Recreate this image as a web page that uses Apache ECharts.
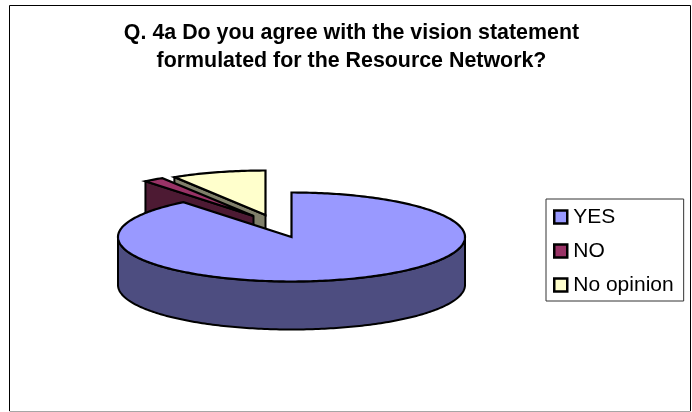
<!DOCTYPE html>
<html>
<head>
<meta charset="utf-8">
<style>html,body{margin:0;padding:0;background:#fff}#chart{width:692px;height:412px}</style>
<script src="https://cdn.jsdelivr.net/npm/echarts@6/dist/echarts.min.js"></script>
</head>
<body>
<div id="chart"></div>
<script>
// Survey answers, in percent
const categories = ['YES', 'NO', 'No opinion'];
const shares = [89.3, 1.9, 8.8];
const topColors = ['#9999ff', '#993366', '#ffffcc'];
const sideColors = ['#4d4d80', '#4d1a33', '#80806a'];
const titleLines = ['Q. 4a Do you agree with the vision statement', 'formulated for the Resource Network?'];

// Tilted disc geometry
const disc = { cx: 291.5, cy: 237, rx: 173.5, ry: 44.5, depth: 48 };
// Pull-out of each slice from the centre
const pullX = [0, -38, -26];
const pullY = [0, -21, -22];
const total = shares.reduce((a, b) => a + b, 0);

function sliceRange(i) {
  let before = 0;
  for (let k = 0; k < i; k++) before += shares[k];
  return [before / total * 360, (before + shares[i]) / total * 360];
}

function rimPoint(deg, ox, oy, drop) {
  const t = deg * Math.PI / 180;
  return [disc.cx + ox + disc.rx * Math.sin(t), disc.cy + oy + drop - disc.ry * Math.cos(t)];
}

function arcPoints(a, b, ox, oy, drop) {
  const steps = Math.max(2, Math.ceil(Math.abs(b - a)));
  const pts = [];
  for (let s = 0; s <= steps; s++) pts.push(rimPoint(a + (b - a) * s / steps, ox, oy, drop));
  return pts;
}

function renderSlice(params) {
  const i = params.seriesIndex;
  const [a, b] = sliceRange(i);
  const ox = pullX[i], oy = pullY[i], d = disc.depth;
  const apex = [disc.cx + ox, disc.cy + oy];
  const apexLow = [apex[0], apex[1] + d];
  const children = [];
  const side = { fill: sideColors[i], stroke: '#000', lineWidth: 2, lineJoin: 'round' };
  const addSide = pts => children.push({ type: 'polygon', shape: { points: pts }, style: side });

  // Cut faces that turn toward the viewer
  if (a > 180 && a < 360) {
    const p = rimPoint(a, ox, oy, 0);
    addSide([apex, p, [p[0], p[1] + d], apexLow]);
  }
  if (b > 0 && b < 180) {
    const p = rimPoint(b, ox, oy, 0);
    addSide([apex, p, [p[0], p[1] + d], apexLow]);
  }
  // Front part of the outer rim
  const from = Math.max(a, 90), to = Math.min(b, 270);
  if (to > from) {
    addSide(arcPoints(from, to, ox, oy, 0).concat(arcPoints(to, from, ox, oy, d)));
  }
  // Top face
  children.push({
    type: 'polygon',
    shape: { points: [apex].concat(arcPoints(a, b, ox, oy, 0)) },
    style: { fill: topColors[i], stroke: '#000', lineWidth: 2.2, lineJoin: 'miter' }
  });
  return { type: 'group', children };
}

const chart = echarts.init(document.getElementById('chart'), null, { renderer: 'canvas' });
chart.setOption({
  animation: false,
  backgroundColor: '#fff',
  title: {
    text: titleLines.join('\n'),
    left: 346.5,
    top: 14,
    textAlign: 'center',
    textStyle: { fontFamily: 'Liberation Sans', fontSize: 21.4, fontWeight: 'bold', color: '#000', lineHeight: 28 }
  },
  legend: {
    data: categories,
    orient: 'vertical',
    left: 546,
    top: 199,
    padding: [7, 10, 5, 7],
    itemGap: 12,
    itemWidth: 13,
    itemHeight: 13,
    icon: 'rect',
    borderColor: '#333',
    borderWidth: 1,
    backgroundColor: '#fff',
    selectedMode: false,
    textStyle: { fontFamily: 'Liberation Sans', fontSize: 21, color: '#000', lineHeight: 22, padding: [0, 0, 0, 1] },
    itemStyle: { borderColor: '#000', borderWidth: 2.5 }
  },
  graphic: [
    { type: 'line', silent: true, shape: { x1: 9.5, y1: 5.5, x2: 690.5, y2: 5.5 }, style: { stroke: '#000', lineWidth: 1 } },
    { type: 'line', silent: true, shape: { x1: 9.5, y1: 5.5, x2: 9.5, y2: 411 }, style: { stroke: '#000', lineWidth: 1 } },
    { type: 'line', silent: true, shape: { x1: 690.5, y1: 5.5, x2: 690.5, y2: 411 }, style: { stroke: '#000', lineWidth: 1 } },
    { type: 'line', silent: true, shape: { x1: 9.5, y1: 411.5, x2: 690.5, y2: 411.5 }, style: { stroke: '#a6a6a6', lineWidth: 1 } }
  ],
  series: categories.map((name, i) => ({
    type: 'custom',
    name,
    coordinateSystem: 'none',
    z: 3 - i,
    silent: true,
    itemStyle: { color: topColors[i] },
    data: [[shares[i]]],
    renderItem: renderSlice
  }))
});
</script>
</body>
</html>
